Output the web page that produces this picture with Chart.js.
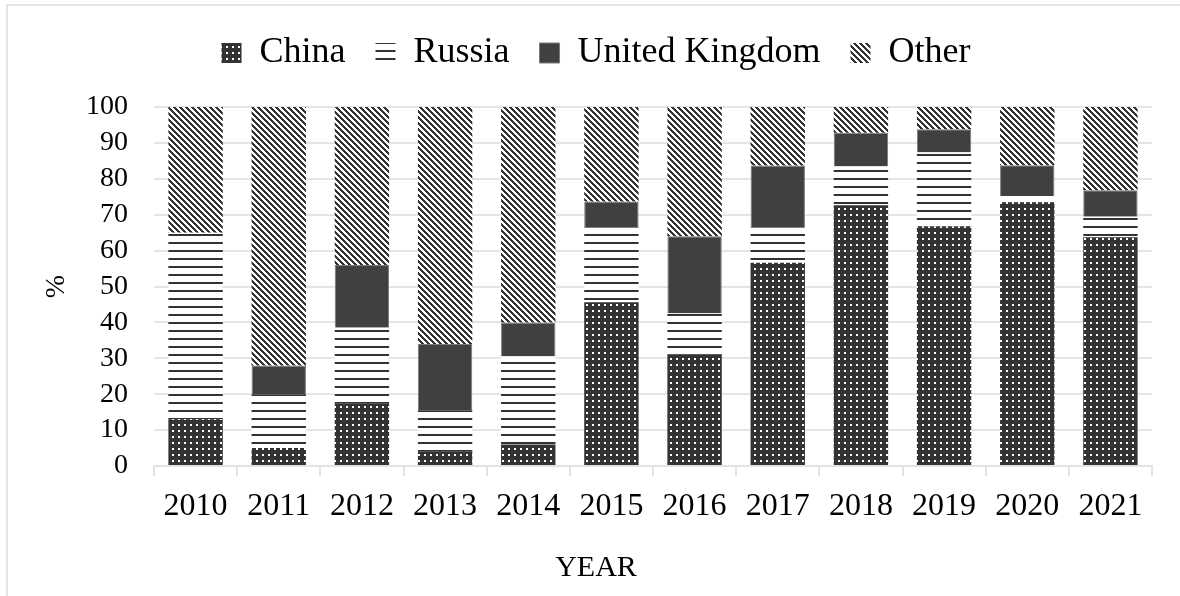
<!DOCTYPE html>
<html>
<head>
<meta charset="utf-8">
<script src="https://cdn.jsdelivr.net/npm/chart.js@4"></script>
<style>
  html, body { margin: 0; padding: 0; background: #fff; overflow: hidden; }
  #frame {
    position: absolute; left: 6px; top: 4px; width: 1300px; height: 700px;
    border-left: 2px solid #e2e5ea; border-top: 2px solid #e2e5ea;
  }
  #wrap { position: absolute; left: 8px; top: 2px; width: 1200px; height: 594px; }
</style>
</head>
<body>
<div id="frame"></div>
<div id="wrap"><canvas id="chart"></canvas></div>
<script>
const years = ['2010', '2011', '2012', '2013', '2014', '2015', '2016', '2017', '2018', '2019', '2020', '2021'];
const china = [13, 5, 17.5, 4, 6, 45.6, 31, 56.6, 72.6, 66.7, 73.5, 63.7];
const russia = [52, 15, 21, 11.5, 24.5, 20.8, 11.5, 9.8, 10.8, 20.6, 1.7, 5.7];
const unitedKingdom = [0, 8, 17.5, 18.5, 9.5, 7.3, 21.5, 17.3, 9.4, 6.5, 8.6, 7.4];
const other = [35, 72, 44, 66, 60, 26.3, 36, 16.3, 7.2, 6.2, 16.2, 23.2];

const serif = "'Liberation Serif', 'Times New Roman', serif";
const dark = '#333333';

// small tiles used as fill patterns for the bar segments
function makePattern(size, paint) {
    const c = document.createElement('canvas');
    c.width = size;
    c.height = size;
    const g = c.getContext('2d');
    paint(g, size);
    return g.createPattern(c, 'repeat');
}

const dotted = makePattern(6, (g, s) => {
    g.fillStyle = dark;
    g.fillRect(0, 0, s, s);
    g.fillStyle = '#ffffff';
    g.fillRect(2, 2, 2, 2);
});

const hLines = makePattern(8, (g, s) => {
    g.fillStyle = '#ffffff';
    g.fillRect(0, 0, s, s);
    g.fillStyle = dark;
    g.fillRect(0, 0, s, 2);
});

const diagonal = makePattern(6, (g, s) => {
    g.fillStyle = '#ffffff';
    g.fillRect(0, 0, s, s);
    g.fillStyle = dark;
    for (let y = 0; y < s; y++) {
        for (let k = 0; k < 3; k++) {
            g.fillRect((y + k) % s, y, 1, 1);
        }
    }
});

// extra space between the legend and the plot
const legendGap = {
    id: 'legendGap',
    beforeLayout(chart) {
        const legend = chart.legend;
        if (legend && !legend._gapAdded) {
            const fit = legend.fit;
            legend.fit = function () {
                fit.apply(this, arguments);
                this.height += 26;
            };
            legend._gapAdded = true;
        }
    }
};

const ctx = document.getElementById('chart').getContext('2d');

new Chart(ctx, {
    type: 'bar',
    data: {
        labels: years,
        datasets: [
            { label: 'China', data: china, backgroundColor: dotted, borderWidth: 0 },
            { label: 'Russia', data: russia, backgroundColor: hLines, borderWidth: 0 },
            { label: 'United Kingdom', data: unitedKingdom, backgroundColor: '#404040', borderColor: '#7a7a7a', borderWidth: 1 },
            { label: 'Other', data: other, backgroundColor: diagonal, borderWidth: 0 }
        ]
    },
    plugins: [legendGap],
    options: {
        responsive: true,
        maintainAspectRatio: false,
        animation: false,
        categoryPercentage: 1,
        barPercentage: 0.654,
        layout: {
            padding: { left: 32, right: 56, top: 3 }
        },
        plugins: {
            tooltip: { enabled: false },
            legend: {
                position: 'top',
                labels: {
                    boxWidth: 20,
                    boxHeight: 20,
                    padding: 30,
                    color: '#000',
                    font: { family: serif, size: 36 }
                }
            },
            title: {
                display: true,
                text: 'YEAR',
                position: 'bottom',
                color: '#000',
                font: { family: serif, size: 30, weight: 'normal' },
                padding: { top: 13.6, bottom: 10 }
            }
        },
        scales: {
            x: {
                stacked: true,
                grid: {
                    display: true,
                    drawOnChartArea: false,
                    drawTicks: true,
                    tickLength: 10,
                    offset: true,
                    color: '#dfe2e7',
                    lineWidth: 2
                },
                border: { display: true, color: '#dfe2e7', width: 2 },
                ticks: {
                    color: '#000',
                    padding: 11,
                    font: { family: serif, size: 32 }
                }
            },
            y: {
                stacked: true,
                min: 0,
                max: 100,
                afterFit: (scale) => {
                    scale.width = 114;
                },
                grid: { color: '#e2e5ea', lineWidth: 2, drawTicks: false },
                border: { display: false },
                ticks: {
                    stepSize: 10,
                    autoSkip: false,
                    color: '#000',
                    padding: 26,
                    font: { family: serif, size: 28 }
                },
                title: {
                    display: true,
                    text: '%',
                    color: '#000',
                    font: { family: serif, size: 28 },
                    padding: 0
                }
            }
        }
    }
});
</script>
</body>
</html>
